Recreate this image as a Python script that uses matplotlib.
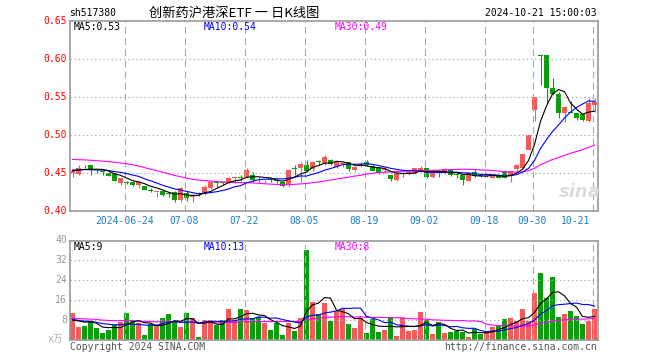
import numpy as np
import pandas as pd
import matplotlib
matplotlib.use('Agg')
import matplotlib.pyplot as plt

# sh517380 daily candles, 2024-06-11 .. 2024-10-21 (88 sessions)
opens = [0.4500, 0.4487, 0.4590, 0.4608, 0.4537, 0.4522, 0.4504, 0.4487, 0.4364, 0.4386,
         0.4386, 0.4342, 0.4329, 0.4270, 0.4250, 0.4268, 0.4232, 0.4254, 0.4145, 0.4241,
         0.4185, 0.4232, 0.4220, 0.4298, 0.4375, 0.4372, 0.4364, 0.4430, 0.4445, 0.4452,
         0.4474, 0.4432, 0.4389, 0.4412, 0.4402, 0.4377, 0.4342, 0.4552, 0.4561, 0.4605,
         0.4553, 0.4652, 0.4627, 0.4670, 0.4575, 0.4615, 0.4640, 0.4533, 0.4590, 0.4640,
         0.4592, 0.4575, 0.4535, 0.4474, 0.4408, 0.4494, 0.4498, 0.4496, 0.4518, 0.4561,
         0.4452, 0.4498, 0.4500, 0.4548, 0.4482, 0.4474, 0.4395, 0.4518, 0.4463, 0.4460,
         0.4440, 0.4474, 0.4526, 0.4474, 0.4553, 0.4561, 0.4803, 0.5329, 0.6050, 0.6050,
         0.5623, 0.5535, 0.5285, 0.5300, 0.5285, 0.5270, 0.5189, 0.5395]
closes = [0.4530, 0.4565, 0.4586, 0.4535, 0.4533, 0.4518, 0.4465, 0.4399, 0.4430, 0.4364,
          0.4342, 0.4386, 0.4276, 0.4265, 0.4254, 0.4211, 0.4230, 0.4145, 0.4298, 0.4167,
          0.4189, 0.4228, 0.4320, 0.4377, 0.4370, 0.4368, 0.4430, 0.4436, 0.4440, 0.4540,
          0.4408, 0.4428, 0.4393, 0.4408, 0.4398, 0.4333, 0.4540, 0.4548, 0.4614, 0.4526,
          0.4649, 0.4648, 0.4710, 0.4620, 0.4640, 0.4620, 0.4550, 0.4580, 0.4620, 0.4610,
          0.4531, 0.4504, 0.4538, 0.4425, 0.4504, 0.4498, 0.4502, 0.4561, 0.4570, 0.4452,
          0.4526, 0.4494, 0.4555, 0.4474, 0.4478, 0.4408, 0.4496, 0.4465, 0.4459, 0.4464,
          0.4474, 0.4439, 0.4439, 0.4526, 0.4605, 0.4746, 0.5000, 0.5504, 0.6040, 0.5623,
          0.5535, 0.5285, 0.5373, 0.5296, 0.5219, 0.5197, 0.5417, 0.5439]
highs = [0.4535, 0.4600, 0.4610, 0.4610, 0.4545, 0.4530, 0.4510, 0.4500, 0.4440, 0.4390,
         0.4395, 0.4390, 0.4330, 0.4298, 0.4254, 0.4270, 0.4254, 0.4265, 0.4315, 0.4260,
         0.4211, 0.4254, 0.4340, 0.4399, 0.4395, 0.4380, 0.4450, 0.4452, 0.4474, 0.4570,
         0.4510, 0.4452, 0.4408, 0.4430, 0.4420, 0.4386, 0.4550, 0.4605, 0.4650, 0.4670,
         0.4660, 0.4670, 0.4737, 0.4690, 0.4660, 0.4650, 0.4650, 0.4590, 0.4650, 0.4665,
         0.4600, 0.4580, 0.4565, 0.4480, 0.4510, 0.4518, 0.4520, 0.4570, 0.4590, 0.4570,
         0.4530, 0.4539, 0.4565, 0.4555, 0.4504, 0.4480, 0.4505, 0.4553, 0.4475, 0.4480,
         0.4480, 0.4480, 0.4535, 0.4530, 0.4625, 0.4750, 0.5005, 0.5504, 0.6050, 0.6050,
         0.5746, 0.5560, 0.5380, 0.5450, 0.5290, 0.5275, 0.5491, 0.5483]
lows = [0.4443, 0.4480, 0.4560, 0.4474, 0.4500, 0.4480, 0.4455, 0.4390, 0.4340, 0.4350,
        0.4330, 0.4300, 0.4270, 0.4254, 0.4189, 0.4200, 0.4189, 0.4120, 0.4123, 0.4130,
        0.4123, 0.4200, 0.4211, 0.4290, 0.4320, 0.4340, 0.4350, 0.4364, 0.4400, 0.4440,
        0.4386, 0.4386, 0.4364, 0.4386, 0.4364, 0.4320, 0.4320, 0.4480, 0.4386, 0.4510,
        0.4530, 0.4605, 0.4610, 0.4600, 0.4560, 0.4575, 0.4520, 0.4520, 0.4575, 0.4590,
        0.4520, 0.4490, 0.4500, 0.4400, 0.4400, 0.4452, 0.4480, 0.4490, 0.4510, 0.4440,
        0.4440, 0.4452, 0.4490, 0.4465, 0.4430, 0.4342, 0.4390, 0.4450, 0.4445, 0.4445,
        0.4430, 0.4430, 0.4430, 0.4386, 0.4530, 0.4555, 0.4800, 0.5184, 0.5658, 0.5425,
        0.5520, 0.5219, 0.5175, 0.5285, 0.5200, 0.5180, 0.5170, 0.5305]
# volume, x10k shares
volumes = [10.9, 5.3, 5.7, 7.7, 4.9, 2.9, 4.1, 6.1, 7.3, 10.9,
           8.1, 6.9, 2.1, 6.5, 5.7, 8.9, 10.5, 7.7, 5.3, 10.9,
           8.9, 1.3, 8.1, 8.1, 6.1, 8.1, 12.5, 8.1, 12.5, 12.1,
           8.9, 9.3, 6.9, 4.1, 6.9, 2.1, 6.9, 3.7, 8.9, 36.1,
           15.3, 10.5, 14.9, 7.7, 11.7, 12.5, 6.5, 4.9, 8.9, 2.9,
           8.5, 3.3, 4.1, 9.3, 1.7, 8.9, 3.7, 4.1, 11.3, 8.1,
           2.5, 7.3, 2.9, 3.3, 3.7, 3.3, 1.3, 4.5, 2.5, 3.3,
           5.3, 5.7, 8.5, 8.9, 7.7, 12.5, 7.7, 18.9, 26.9, 16.9,
           25.3, 9.3, 10.5, 11.7, 9.7, 6.5, 7.7, 12.5]
# the 29 sessions before the window, backed out of where the MA curves start
prior_closes = [0.470, 0.466, 0.469, 0.472, 0.467, 0.465, 0.468, 0.470, 0.466,
                0.478, 0.486, 0.490, 0.487, 0.483, 0.485, 0.481, 0.484, 0.480, 0.476,
                0.458, 0.456, 0.453, 0.455, 0.457, 0.453, 0.452, 0.455, 0.452, 0.453]
prior_volumes = [9.5, 7.8, 10.6, 8.2, 12.1, 7.5, 9.0, 6.8, 11.4, 8.6,
                 9.9, 7.2, 8.4, 10.3, 6.9, 9.7, 8.1, 11.0, 7.6, 9.3,
                 9.8, 8.4, 7.9, 9.6, 7.8, 6.9, 8.2, 7.1, 7.4]

tick_idx = [9, 19, 29, 39, 49, 59, 69, 77, 87]
tick_labels = ['2024-06-24', '07-08', '07-22', '08-05', '08-19',
               '09-02', '09-18', '09-30', '10-21']
price_ticks = [0.40, 0.45, 0.50, 0.55, 0.60, 0.65]
vol_ticks = [8, 16, 24, 32, 40]

RED = '#f55a5a'
GREEN = '#0a9e0a'
GRID = '#aaaaaa'
FRAME = '#999999'
MONO = 'DejaVu Sans Mono'
CJK = ['Noto Sans CJK SC', 'DejaVu Sans']

W, H = 660, 360
fig = plt.figure(figsize=(W / 100, H / 100), dpi=100)


def box(x0, y0, x1, y1):
    return [x0 / W, 1 - y1 / H, (x1 - x0) / W, (y1 - y0) / H]


def ftext(x, y, s, **kw):
    kw.setdefault('family', MONO)
    kw.setdefault('fontsize', 7)
    kw.setdefault('va', 'center')
    fig.text(x / W, 1 - y / H, s, **kw)


o = np.array(opens)
c = np.array(closes)
hi = np.array(highs)
lo = np.array(lows)
vol = np.array(volumes)
n = len(c)
x = np.arange(n)
colors = np.where(c >= o, RED, GREEN)
xmin, xmax = -0.417, 87.583
grid_x = np.array(tick_idx) - 0.33

close_all = pd.Series(prior_closes + closes)
vol_all = pd.Series(prior_volumes + volumes)
k = len(prior_closes)
ma = {w: close_all.rolling(w).mean().values[k:] for w in (5, 10, 30)}
vma = {w: vol_all.rolling(w).mean().values[k:] for w in (5, 10, 30)}
ma_colors = {5: 'black', 10: '#0000ff', 30: '#ff00ff'}

# price panel
ax = fig.add_axes(box(70, 21, 598, 211))
ax.set_xlim(xmin, xmax)
ax.set_ylim(0.40, 0.65)
ax.hlines(price_ticks[1:-1], xmin, xmax, colors=GRID, lw=0.8, linestyles=(0, (1.2, 2.5)))
ax.vlines(grid_x, 0.40, 0.65, colors=GRID, lw=0.8, linestyles=(0, (6, 4)))
ax.vlines(x, lo, hi, colors=colors, lw=0.8)
ax.bar(x, np.maximum(np.abs(c - o), 0.0012), bottom=np.minimum(o, c),
       width=0.8, color=colors, linewidth=0)
for w in (30, 10, 5):
    ax.plot(x, ma[w], color=ma_colors[w], lw=0.8)
ax.text(84.5, 0.425, 'sina', fontsize=13, color='#dcdcdc', style='italic',
        weight='bold', ha='center', va='center')

# volume panel
axv = fig.add_axes(box(70, 240.5, 598, 340.3))
axv.set_xlim(xmin, xmax)
axv.set_ylim(0, 40)
axv.hlines(vol_ticks[:-1], xmin, xmax, colors=GRID, lw=0.8, linestyles=(0, (1.2, 2.5)))
axv.vlines(grid_x, 0, 40, colors=GRID, lw=0.8, linestyles=(0, (6, 4)))
axv.bar(x, vol, width=0.83, color=colors, linewidth=0)
for w in (30, 10, 5):
    axv.plot(x, vma[w], color=ma_colors[w], lw=0.8)

for a in (ax, axv):
    a.set_xticks([])
    a.set_yticks([])
    for s in a.spines.values():
        s.set_color(FRAME)
        s.set_linewidth(1.2)

# axis labels
for p in price_ticks:
    ypx = 211 - (p - 0.40) * 760
    ftext(67, ypx, '%.2f' % p, color='#ff0000', ha='right')
for v in vol_ticks:
    ftext(67, 340.3 - v * 2.5, str(v), color=FRAME, ha='right')
ftext(63, 339, 'x万', color='#b0b0b0', ha='right', family=[MONO, 'Noto Sans CJK SC'])
for i, lab in zip(tick_idx, tick_labels):
    xpx = 72.5 + 6 * i - 2
    if lab == tick_labels[-1]:
        ftext(590, 221, lab, color='#1a7fc7', ha='right')
    else:
        ftext(xpx, 221, lab, color='#1a7fc7', ha='center')

# legends
ftext(74, 27, 'MA5:%.2f' % ma[5][-1], color='black')
ftext(204, 27, 'MA10:%.2f' % ma[10][-1], color='#0000ff')
ftext(335, 27, 'MA30:%.2f' % ma[30][-1], color='#ff00ff')
ftext(74, 246.5, 'MA5:%d' % int(vma[5][-1]), color='black')
ftext(204, 246.5, 'MA10:%d' % int(vma[10][-1]), color='#0000ff')
ftext(335, 246.5, 'MA30:%d' % int(vma[30][-1]), color='#ff00ff')

# header / footer
ftext(69, 13, 'sh517380', color='black')
ftext(149, 13, '创新药沪港深ETF 一 日K线图', color='black', family=CJK, fontsize=9.5)
ftext(597, 13, '2024-10-21 15:00:03', color='black', ha='right')
ftext(70, 347, 'Copyright 2024 SINA.COM', color='#555555')
ftext(597, 347, 'http://finance.sina.com.cn', color='#555555', ha='right')

fig.savefig('out.png', dpi=100, facecolor='white')
